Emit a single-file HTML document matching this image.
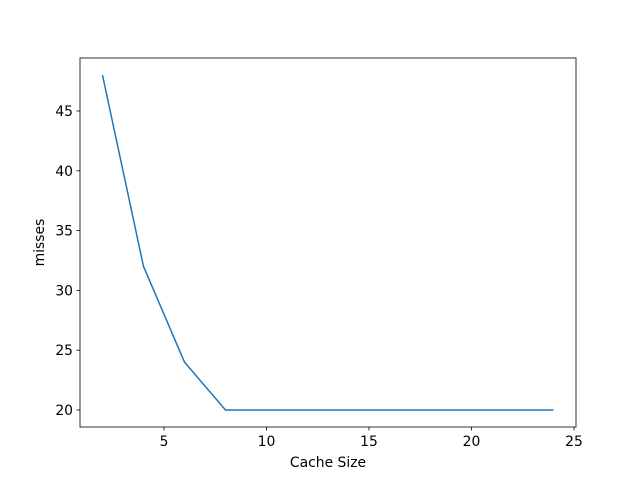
<!DOCTYPE html>
<html><head><meta charset="utf-8"><style>
body{margin:0;background:#fff;}
svg text{font-family:"DejaVu Sans","Liberation Sans",sans-serif;font-size:13.9px;fill:#000;}
</style></head><body>
<svg id="chart" width="640" height="480" xmlns="http://www.w3.org/2000/svg">
<rect width="640" height="480" fill="#fff"/>
</svg>
<script>
const cacheSizes=[2,4,6,8,10,12,14,16,18,20,22,24];
const misses=[48,32,24,20,20,20,20,20,20,20,20,20];
const xTicks=[5,10,15,20,25];
const yTicks=[20,25,30,35,40,45];
const L=80,R=576,T=58,B=427;
function sx(v){return 164+(v-5)*(574-164)/20;}
function sy(v){return 410-(v-20)*(410-111)/25;}
const svg=document.getElementById('chart');
const NS='http://www.w3.org/2000/svg';
function mk(tag,attrs){const e=document.createElementNS(NS,tag);for(const k in attrs)e.setAttribute(k,attrs[k]);svg.appendChild(e);return e;}
const pts=cacheSizes.map((c,i)=>sx(c)+','+sy(misses[i])).join(' ');
const line=mk('polyline',{points:pts,fill:'none',stroke:'#1f77b4','stroke-width':1.5,'stroke-linejoin':'round'});


const frame=mk('rect',{x:L,y:T,width:R-L,height:B-T,fill:'none',stroke:'#000','stroke-width':0.8});


xTicks.forEach(t=>{const x=sx(t);
 mk('line',{x1:x,x2:x,y1:B,y2:B+3.5,stroke:'#000','stroke-width':0.8});
 const tx=mk('text',{x:x,y:B+19,'text-anchor':'middle'});tx.textContent=t;
 
 });
yTicks.forEach(t=>{const y=sy(t);
 mk('line',{x1:L-3.5,x2:L,y1:y,y2:y,stroke:'#000','stroke-width':0.8});
 const tx=mk('text',{x:L-7,y:y+5,'text-anchor':'end'});tx.textContent=t;
 
 });
const xl=mk('text',{x:(L+R)/2,y:467,'text-anchor':'middle'});xl.textContent='Cache Size';


const yl=mk('text',{x:44,y:(T+B)/2,'text-anchor':'middle',transform:'rotate(-90 44 '+((T+B)/2)+')'});yl.textContent='misses';


</script>
</body></html>
